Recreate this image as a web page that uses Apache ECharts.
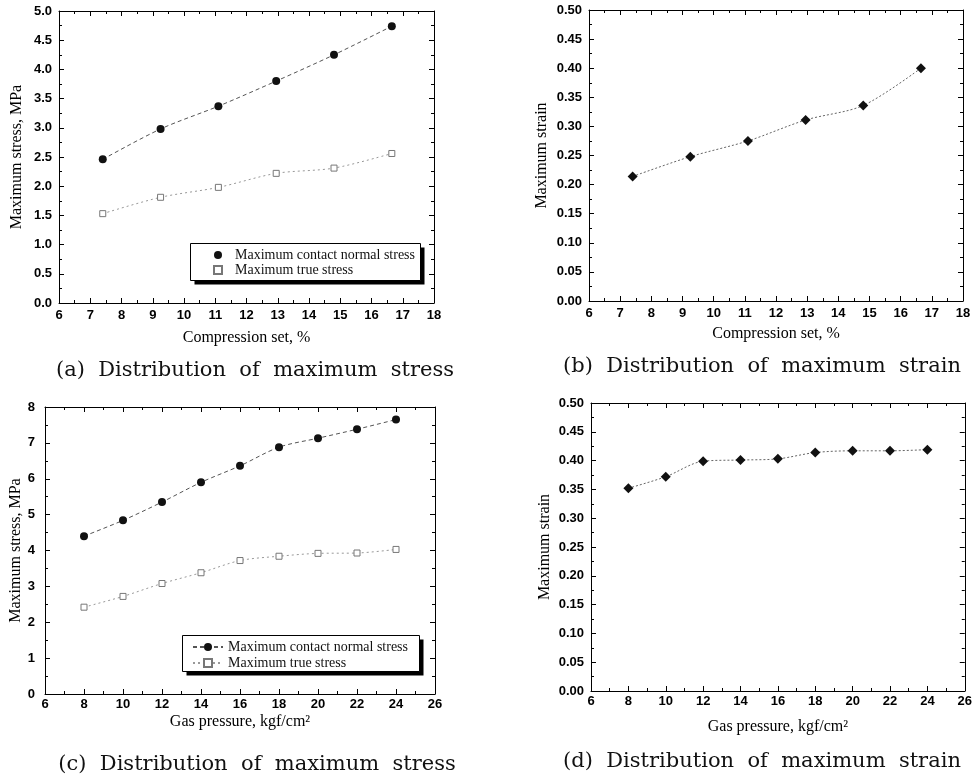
<!DOCTYPE html>
<html>
<head>
<meta charset="utf-8">
<script src="https://cdn.jsdelivr.net/npm/echarts@6/dist/echarts.min.js"></script>
<style>
  html, body { margin: 0; padding: 0; background: #fff; }
  #main { width: 975px; height: 781px; }
</style>
</head>
<body>
<div id="main"></div>
<script>
// values
var compressionSet = [7.4, 9.25, 11.1, 12.95, 14.8, 16.65];
var contactStressA = [2.46, 2.98, 3.37, 3.80, 4.25, 4.74];
var trueStressA = [1.53, 1.81, 1.98, 2.22, 2.31, 2.56];
var strainB = [0.214, 0.248, 0.275, 0.311, 0.336, 0.400];

var gasPressure = [8, 10, 12, 14, 16, 18, 20, 22, 24];
var contactStressC = [4.40, 4.84, 5.35, 5.90, 6.36, 6.88, 7.13, 7.38, 7.65];
var trueStressC = [2.42, 2.72, 3.08, 3.38, 3.72, 3.84, 3.92, 3.93, 4.03];
var strainD = [0.352, 0.372, 0.399, 0.401, 0.403, 0.414, 0.417, 0.417, 0.419];

var captions = [
  '(a)  Distribution  of  maximum  stress',
  '(b)  Distribution  of  maximum  strain',
  '(c)  Distribution  of  maximum  stress',
  '(d)  Distribution  of  maximum  strain'
];
var nameContact = 'Maximum contact normal stress';
var nameTrue = 'Maximum true stress';

var SANS = 'Liberation Sans';
var SERIF = 'Liberation Serif';

function pairs(xs, ys) {
  return xs.map(function (x, i) { return [x, ys[i]]; });
}

// one entry per sub plot
var panels = [
  { grid: { left: 59, top: 11, width: 375, height: 292 }, x: [6, 18, 1], y: [0, 5, 0.5], dec: 1,
    xName: 'Compression set, %', yName: 'Maximum stress, MPa', xGap: 27, yGap: 34, xm: 6, ym: 7,
    cap: [250, 355] },
  { grid: { left: 589, top: 10, width: 374, height: 291 }, x: [6, 18, 1], y: [0, 0.5, 0.05], dec: 2,
    xName: 'Compression set, %', yName: 'Maximum strain', xGap: 25, yGap: 39, xm: 6, ym: 7,
    cap: [757, 351] },
  { grid: { left: 45, top: 407, width: 390, height: 287 }, x: [6, 26, 2], y: [0, 8, 1], dec: 0,
    xName: 'Gas pressure, kgf/cm²', yName: 'Maximum stress, MPa', xGap: 20, yGap: 20, xm: 4, ym: 10,
    cap: [252, 749] },
  { grid: { left: 591, top: 403, width: 376, height: 288 }, x: [6, 26, 2], y: [0, 0.5, 0.05], dec: 2,
    xName: 'Gas pressure, kgf/cm²', yName: 'Maximum strain', xGap: 28, yGap: 38, xm: 4, ym: 7,
    cap: [757, 746] }
];

var tickStyle = { show: true, inside: true, length: 5, lineStyle: { color: '#000', width: 1 } };
var minorStyle = { show: true, splitNumber: 2, length: 3, lineStyle: { color: '#000', width: 1 } };
var lineAxis = { show: true, onZero: false, lineStyle: { color: '#000', width: 1 } };

var grids = [], xAxes = [], yAxes = [], titles = [];
panels.forEach(function (p, g) {
  grids.push(p.grid);
  var labelBase = { color: '#000', fontFamily: SANS, fontWeight: 'bold', fontSize: 13 };
  xAxes.push({
    type: 'value', gridIndex: g, min: p.x[0], max: p.x[1], interval: p.x[2],
    name: p.xName, nameLocation: 'middle', nameGap: p.xGap,
    nameTextStyle: { fontFamily: SERIF, fontSize: 16, color: '#000' },
    axisLine: lineAxis, axisTick: tickStyle, minorTick: minorStyle, splitLine: { show: false },
    axisLabel: Object.assign({ margin: p.xm, showMaxLabel: true, showMinLabel: true }, labelBase)
  });
  xAxes.push({
    type: 'value', gridIndex: g, position: 'top', min: p.x[0], max: p.x[1], interval: p.x[2],
    axisLine: lineAxis, axisTick: tickStyle, minorTick: minorStyle, splitLine: { show: false },
    axisLabel: { show: false }
  });
  yAxes.push({
    type: 'value', gridIndex: g, min: p.y[0], max: p.y[1], interval: p.y[2],
    name: p.yName, nameLocation: 'middle', nameGap: p.yGap, nameRotate: 90,
    nameTextStyle: { fontFamily: SERIF, fontSize: 16, color: '#000' },
    axisLine: lineAxis, axisTick: tickStyle, minorTick: minorStyle, splitLine: { show: false },
    axisLabel: Object.assign({ margin: p.ym, formatter: (function (d) {
      return function (v) { return v.toFixed(d); };
    })(p.dec) }, labelBase)
  });
  yAxes.push({
    type: 'value', gridIndex: g, position: 'right', min: p.y[0], max: p.y[1], interval: p.y[2],
    axisLine: lineAxis, axisTick: tickStyle, minorTick: minorStyle, splitLine: { show: false },
    axisLabel: { show: false }
  });
  titles.push({
    text: captions[g], left: p.cap[0], top: p.cap[1], textAlign: 'center',
    textStyle: { fontFamily: 'DejaVu Serif', fontWeight: 'normal', fontSize: 21, color: '#111' }
  });
});

function contactSeries(g, data) {
  return {
    name: nameContact, type: 'line', xAxisIndex: 2 * g, yAxisIndex: 2 * g, data: data,
    smooth: 0.3, symbol: 'circle', symbolSize: 8,
    itemStyle: { color: '#111' },
    lineStyle: { color: '#555', width: 1, type: [4, 3] }
  };
}
function trueSeries(g, data) {
  return {
    name: nameTrue, type: 'line', xAxisIndex: 2 * g, yAxisIndex: 2 * g, data: data,
    smooth: 0.3, symbol: 'rect', symbolSize: 6,
    itemStyle: { color: '#fff', borderColor: '#777', borderWidth: 1 },
    lineStyle: { color: '#999', width: 1, type: [2, 3] }
  };
}
function strainSeries(g, data) {
  return {
    name: 'Maximum strain', type: 'line', xAxisIndex: 2 * g, yAxisIndex: 2 * g, data: data,
    smooth: 0.3, symbol: 'diamond', symbolSize: 10,
    itemStyle: { color: '#111' },
    lineStyle: { color: '#666', width: 1, type: [2, 2] }
  };
}

// legend frame with a hard drop shadow, drawn behind the legend items
function legendFrame(x, y, w, h) {
  return [
    { type: 'rect', z: 20, shape: { x: x + 4, y: y + 4, width: w, height: h }, style: { fill: '#000' } },
    { type: 'rect', z: 21, shape: { x: x, y: y, width: w, height: h },
      style: { fill: '#fff', stroke: '#000', lineWidth: 1 } }
  ];
}

var legendBase = {
  orient: 'vertical', selectedMode: false, padding: 0, z: 30,
  textStyle: { fontFamily: SERIF, fontSize: 14, color: '#111' }
};

var option = {
  animation: false,
  backgroundColor: '#fff',
  title: titles,
  grid: grids,
  xAxis: xAxes,
  yAxis: yAxes,
  graphic: legendFrame(190.5, 243.5, 230, 37).concat(legendFrame(182.5, 635.5, 237, 36)),
  legend: [
    Object.assign({}, legendBase, {
      left: 213, top: 248, itemGap: 1, itemWidth: 24, itemHeight: 8, symbolKeepAspect: true,
      data: [
        { name: nameContact, icon: 'circle' },
        { name: nameTrue, icon: 'path://M0 0H10V10H0Z' }
      ]
    }),
    Object.assign({}, legendBase, {
      left: 192, top: 640, itemGap: 2, itemWidth: 30, itemHeight: 10,
      data: [nameContact, nameTrue]
    })
  ],
  series: [
    contactSeries(0, pairs(compressionSet, contactStressA)),
    trueSeries(0, pairs(compressionSet, trueStressA)),
    strainSeries(1, pairs(compressionSet, strainB)),
    contactSeries(2, pairs(gasPressure, contactStressC)),
    trueSeries(2, pairs(gasPressure, trueStressC)),
    strainSeries(3, pairs(gasPressure, strainD))
  ]
};

var myChart = echarts.init(document.getElementById('main'));
myChart.setOption(option);
</script>
</body>
</html>
